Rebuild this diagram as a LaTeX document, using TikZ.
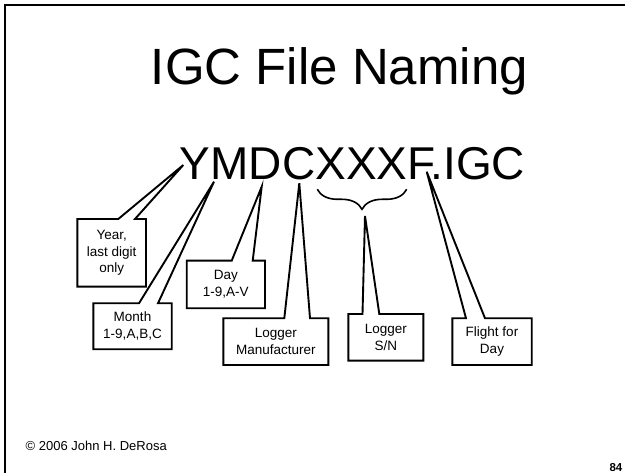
\documentclass[tikz,border=0pt]{standalone}
\usepackage{fontspec}
\setmainfont{Liberation Sans}
\usetikzlibrary{decorations.pathreplacing}
\tikzset{
  callout/.style={draw=black, line width=1.9pt, fill=white},
  lbl/.style={align=center, inner sep=0pt, font=\fontsize{13.5}{16.7}\selectfont},
  framel/.style={draw=black, line width=1.6pt},
}
\begin{document}
\begin{tikzpicture}[x=1pt,y=-1pt]
\useasboundingbox (0,0) rectangle (625,473);
% frame (top and left edge only)
\coordinate (fTL) at (4.7,5);
\coordinate (fTR) at (625,5);
\coordinate (fBL) at (4.7,473);
\draw[framel] (fTR) -- (fTL) -- (fBL);

% title and file name
\node[anchor=base, inner sep=0pt, font=\fontsize{51}{60}\selectfont] (title) at (339.4,85) {IGC File Naming};
\node[anchor=base, inner sep=0pt, font=\fontsize{46}{55}\selectfont] (fname) at (352.5,179.3) {YMDCXXXF.IGC};

% pointer tips
\coordinate (tY) at (183.3,165);
\coordinate (tM) at (214,181.7);
\coordinate (tD) at (261.7,186.7);
\coordinate (tC) at (299.3,183.3);
\coordinate (tS) at (365,216);
\coordinate (tF) at (426.7,171.7);

% brace under XXX
\coordinate (b1) at (317.3,189.3);
\coordinate (b2) at (406.7,189.3);
\draw[line width=1.6pt, decorate, decoration={brace, mirror, amplitude=20pt}] (b1) -- (b2);

% callouts
\draw[callout] (77.3,219) -- (118.3,219) -- (tY) -- (135,219) -- (146,219) -- (146,286.7) -- (77.3,286.7) -- cycle;
\node[lbl] (year) at (111.7,252.8) {Year,\\last digit\\only};

\draw[callout] (93.3,303.3) -- (139,303.3) -- (tM) -- (158,303.3) -- (171.7,303.3) -- (171.7,349.3) -- (93.3,349.3) -- cycle;
\node[lbl] (month) at (132.5,326.3) {Month\\1-9,A,B,C};

\draw[callout] (186.7,260.7) -- (231.7,260.7) -- (tD) -- (252.7,260.7) -- (265,260.7) -- (265,308.3) -- (186.7,308.3) -- cycle;
\node[lbl] (day) at (225.8,284.5) {Day\\1-9,A-V};

\draw[callout] (223.3,318.3) -- (284.3,318.3) -- (tC) -- (310,318.3) -- (328.3,318.3) -- (328.3,365) -- (223.3,365) -- cycle;
\node[lbl] (manu) at (275.8,341.7) {Logger\\Manufacturer};

\draw[callout] (348.3,314) -- (362.5,314) -- (tS) -- (379.3,314) -- (423.3,314) -- (423.3,360.7) -- (348.3,360.7) -- cycle;
\node[lbl] (sn) at (385.8,337.3) {Logger\\S/N};

\draw[callout] (452.3,318.3) -- (466,318.3) -- (tF) -- (485,318.3) -- (531.7,318.3) -- (531.7,365) -- (452.3,365) -- cycle;
\node[lbl] (flight) at (492,341.7) {Flight for\\Day};

% footer
\node[anchor=base west, inner sep=0pt, font=\fontsize{13}{15}\selectfont] (copy) at (25.5,450.3) {© 2006 John H. DeRosa};
\node[anchor=base east, inner sep=0pt, font=\fontsize{11.5}{13}\selectfont\bfseries] (page) at (622.5,471.3) {84};
\end{tikzpicture}
\end{document}
